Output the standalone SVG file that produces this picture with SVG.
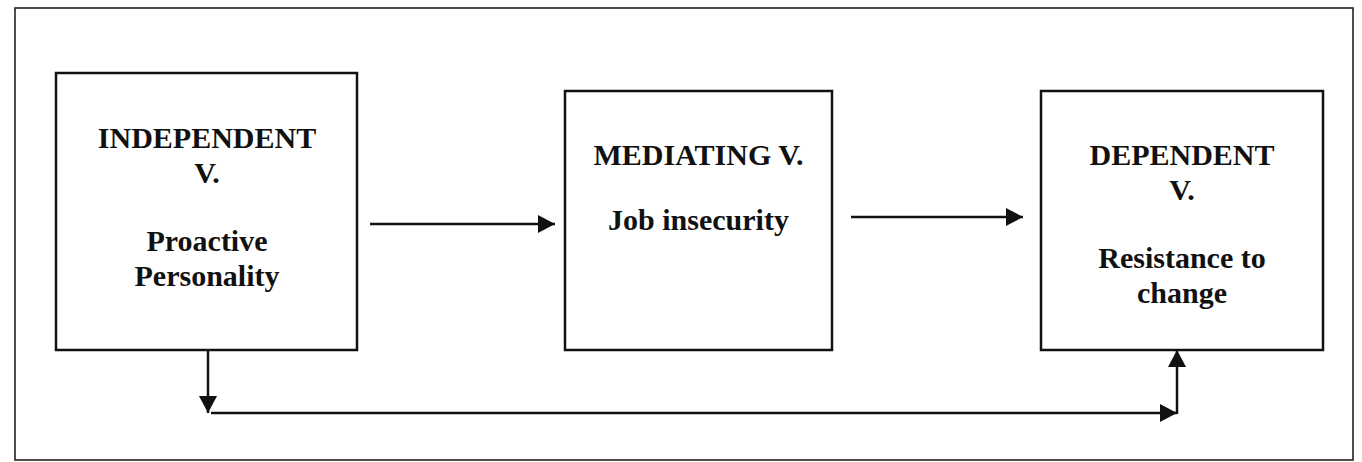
<svg xmlns="http://www.w3.org/2000/svg" width="1362" height="462" viewBox="0 0 1362 462">
  <style>
    .frame { fill: #ffffff; stroke: #222; stroke-width: 1.6; }
    .box { fill: #ffffff; stroke: #111; stroke-width: 2.5; }
    .lbl { font-family: "Liberation Serif", "Times New Roman", serif; font-weight: bold; font-size: 30px; fill: #111; text-anchor: middle; }
    .conn { fill: none; stroke: #111; stroke-width: 2.5; }
  </style>
  <defs>
    <marker id="ah" markerUnits="userSpaceOnUse" markerWidth="18" markerHeight="18" refX="17" refY="9" orient="auto">
      <path d="M0,0 L17,9 L0,18 Z" fill="#111"/>
    </marker>
  </defs>
  <rect width="1362" height="462" fill="#ffffff"/>
  <rect class="frame" x="15" y="8" width="1338" height="452"/>

  <g id="node-independent">
    <rect class="box" x="56" y="73" width="301" height="277"/>
    <text class="lbl" x="207" y="148">INDEPENDENT</text>
    <text class="lbl" x="207" y="182.5">V.</text>
    <text class="lbl" x="207" y="251">Proactive</text>
    <text class="lbl" x="207" y="285.5">Personality</text>
  </g>

  <g id="node-mediating">
    <rect class="box" x="565" y="91" width="267" height="259"/>
    <text class="lbl" x="698.5" y="165">MEDIATING V.</text>
    <text class="lbl" x="698.5" y="230">Job insecurity</text>
  </g>

  <g id="node-dependent">
    <rect class="box" x="1041" y="91" width="282" height="259"/>
    <text class="lbl" x="1182" y="165">DEPENDENT</text>
    <text class="lbl" x="1182" y="200">V.</text>
    <text class="lbl" x="1182" y="268">Resistance to</text>
    <text class="lbl" x="1182" y="303">change</text>
  </g>

  <g id="connectors">
    <line class="conn" x1="370" y1="224" x2="555" y2="224" marker-end="url(#ah)"/>
    <line class="conn" x1="851" y1="217" x2="1023" y2="217" marker-end="url(#ah)"/>
    <line class="conn" x1="208" y1="350" x2="208" y2="413" marker-end="url(#ah)"/>
    <line class="conn" x1="211" y1="413" x2="1177" y2="413" marker-end="url(#ah)"/>
    <line class="conn" x1="1177" y1="414" x2="1177" y2="350" marker-end="url(#ah)"/>
  </g>
</svg>
